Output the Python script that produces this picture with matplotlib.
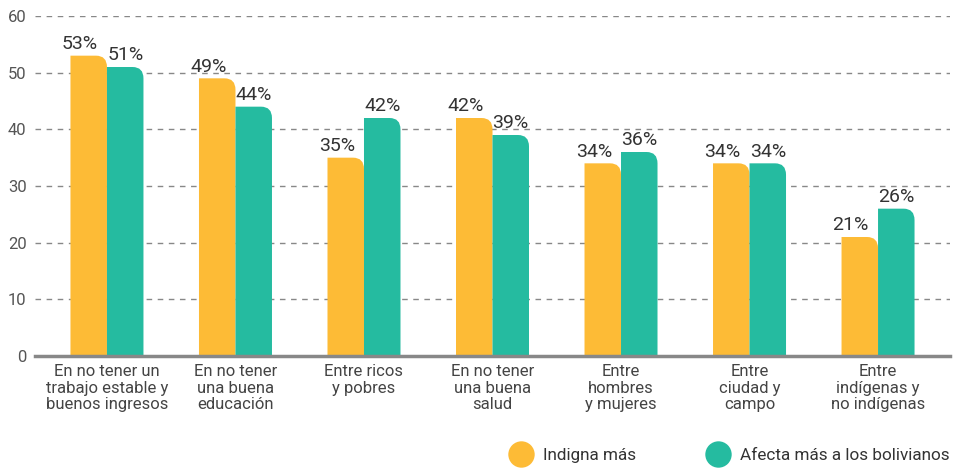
import matplotlib.pyplot as plt
from matplotlib.path import Path
from matplotlib.patches import PathPatch
from matplotlib.lines import Line2D
import numpy as np

plt.rcParams['font.family'] = ['Roboto', 'DejaVu Sans']

categories = ['En no tener un\ntrabajo estable y\nbuenos ingresos',
              'En no tener\nuna buena\neducación',
              'Entre ricos\ny pobres',
              'En no tener\nuna buena\nsalud',
              'Entre\nhombres\ny mujeres',
              'Entre\nciudad y\ncampo',
              'Entre\nindígenas y\nno indígenas']
indigna = [53, 49, 35, 42, 34, 34, 21]
afecta = [51, 44, 42, 39, 36, 34, 26]
series_names = ['Indigna más', 'Afecta más a los bolivianos']

YELLOW = '#FDBB36'
GREEN = '#25BBA0'
BAR_W = 0.284
RX, RY = 0.085, 2.0


def rounded_bar(ax, rect, color):
    # swap plain rectangle for one with a rounded top-right corner
    x0 = rect.get_x()
    x1 = x0 + rect.get_width()
    h = rect.get_height()
    verts = [(x0, 0), (x1, 0), (x1, h - RY), (x1, h), (x1 - RX, h), (x0, h), (x0, 0)]
    codes = [Path.MOVETO, Path.LINETO, Path.LINETO, Path.CURVE3, Path.CURVE3,
             Path.LINETO, Path.CLOSEPOLY]
    ax.add_patch(PathPatch(Path(verts, codes), facecolor=color, edgecolor='none', zorder=3))
    rect.set_visible(False)


fig = plt.figure(figsize=(9.58, 4.69), dpi=100)
ax = fig.add_axes([35 / 958, 1 - 356 / 469, 915 / 958, 340 / 469])

x = np.arange(len(categories))
bars_a = ax.bar(x - BAR_W / 2, indigna, BAR_W)
bars_b = ax.bar(x + BAR_W / 2, afecta, BAR_W)
for r, v in zip(bars_a, indigna):
    rounded_bar(ax, r, YELLOW)
    ax.text(r.get_x() + r.get_width() / 2 - 0.07, v + 0.5, f'{v}%', ha='center', va='bottom',
            fontsize=14, color='#333333', zorder=4)
for r, v in zip(bars_b, afecta):
    rounded_bar(ax, r, GREEN)
    ax.text(r.get_x() + r.get_width() / 2, v + 0.5, f'{v}%', ha='center', va='bottom',
            fontsize=14, color='#333333', zorder=4)

ax.set_xlim(-0.56, 6.56)
ax.set_ylim(0, 60)
ax.set_yticks(range(0, 61, 10))
ax.set_xticks(x)
ax.set_xticklabels(categories, fontsize=12, color='#444444', linespacing=1.1)
ax.tick_params(axis='y', length=0, pad=6, labelsize=12, labelcolor='#555555')
ax.tick_params(axis='x', length=0, pad=6)
ax.yaxis.grid(True, linestyle=(0, (4, 4)), color='#888888', linewidth=1)
ax.set_axisbelow(True)
for s in ['top', 'right', 'left']:
    ax.spines[s].set_visible(False)
ax.spines['bottom'].set_color('#888888')
ax.spines['bottom'].set_linewidth(2.5)
ax.spines['bottom'].set_zorder(5)

handles = [Line2D([], [], marker='o', linestyle='none', markersize=19,
                  markerfacecolor=c, markeredgecolor='none') for c in (YELLOW, GREEN)]
fig.legend(handles, series_names, loc='center', bbox_to_anchor=(727 / 958, 1 - 455 / 469),
           ncol=2, frameon=False, fontsize=12.3, handletextpad=0.3, columnspacing=3.8,
           labelcolor='#333333')

fig.savefig('out.png', dpi=100)
